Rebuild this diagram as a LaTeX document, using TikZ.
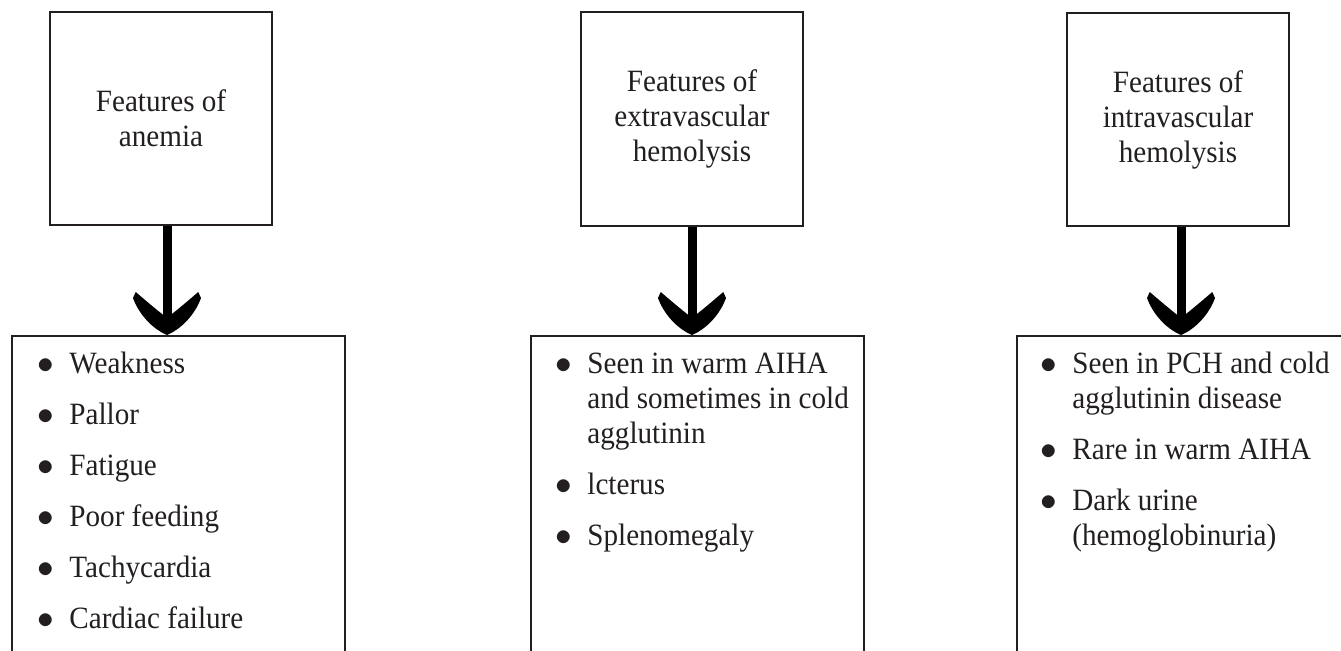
\documentclass[tikz,border=0pt]{standalone}
\usepackage{fontspec}
\setmainfont{Liberation Serif}[FakeStretch=0.94]
\usepackage{tikz}
\usetikzlibrary{arrows.meta,calc}

\definecolor{ink}{HTML}{231F20}

% curved wing head of the thick arrows
\pgfdeclarearrow{
  name = Wing,
  parameters = {\the\pgfarrowlength,\the\pgfarrowwidth},
  setup code = {
    \pgfarrowssettipend{0pt}
    \pgfarrowssetlineend{-.35\pgfarrowlength}
    \pgfarrowssetbackend{-\pgfarrowlength}
    \pgfarrowshullpoint{0pt}{0pt}
    \pgfarrowshullpoint{-\pgfarrowlength}{.5\pgfarrowwidth}
    \pgfarrowshullpoint{-\pgfarrowlength}{-.5\pgfarrowwidth}
    \pgfarrowssavethe\pgfarrowlength
    \pgfarrowssavethe\pgfarrowwidth
  },
  drawing code = {
    \pgfpathmoveto{\pgfqpoint{0pt}{0pt}}
    \pgfpathcurveto{\pgfqpoint{-.14\pgfarrowlength}{.21\pgfarrowwidth}}{\pgfqpoint{-.47\pgfarrowlength}{.41\pgfarrowwidth}}{\pgfqpoint{-.86\pgfarrowlength}{.5\pgfarrowwidth}}
    \pgfpathlineto{\pgfqpoint{-\pgfarrowlength}{.46\pgfarrowwidth}}
    \pgfpathcurveto{\pgfqpoint{-.81\pgfarrowlength}{.32\pgfarrowwidth}}{\pgfqpoint{-.58\pgfarrowlength}{.15\pgfarrowwidth}}{\pgfqpoint{-.4\pgfarrowlength}{0pt}}
    \pgfpathcurveto{\pgfqpoint{-.58\pgfarrowlength}{-.15\pgfarrowwidth}}{\pgfqpoint{-.81\pgfarrowlength}{-.32\pgfarrowwidth}}{\pgfqpoint{-\pgfarrowlength}{-.46\pgfarrowwidth}}
    \pgfpathlineto{\pgfqpoint{-.86\pgfarrowlength}{-.5\pgfarrowwidth}}
    \pgfpathcurveto{\pgfqpoint{-.47\pgfarrowlength}{-.41\pgfarrowwidth}}{\pgfqpoint{-.14\pgfarrowlength}{-.21\pgfarrowwidth}}{\pgfqpoint{0pt}{0pt}}
    \pgfpathclose
    \pgfusepathqfill
  },
  defaults = {length = 32.25pt, width = 51pt}
}

\newcommand{\blt}{\(\bullet\)}

\begin{document}
\begin{tikzpicture}[x=0.75pt,y=0.75pt,yscale=-1,xscale=1,
  every node/.style={font=\fontsize{23.25}{26.25}\selectfont, text=ink},
  headbox/.style={draw=ink, line width=1.5pt, minimum width=166.5pt, minimum height=160pt, align=center, inner sep=0pt},
  listbox/.style={draw=ink, line width=1.5pt, minimum width=249.75pt, minimum height=300pt, anchor=north, inner sep=0pt},
  itemlist/.style={anchor=north west, inner sep=0pt},
  bigarrow/.style={line width=6.75pt, -{Wing}}
]
\useasboundingbox (0,0) rectangle (1341,650);
\clip (0,0) rectangle (1341,650);

%Shape: Rectangle [anemia]
\node[headbox] (anemia) at (161,118.5) {Features of\\anemia};
%Shape: Rectangle [extravascular]
\node[headbox] (extra) at (692,119) {Features of\\extravascular\\hemolysis};
%Shape: Rectangle [intravascular]
\node[headbox] (intra) at (1178,119.5) {Features of\\intravascular\\hemolysis};

%Shape: Rectangle [lists]
\node[listbox] (anemiaList) at (178.5,335) {};
\node[listbox] (extraList) at (697,335) {};
\node[listbox] (intraList) at (1183.5,335) {};

%Straight Lines [arrows]
\draw[bigarrow] ($(anemia.south)+(6,0)$) -- ($(anemiaList.north)+(-11.5,0)$);
\draw[bigarrow] (extra.south) -- ($(extraList.north)+(-5,0)$);
\draw[bigarrow] ($(intra.south)+(3,0)$) -- ($(intraList.north)+(-2.5,0)$);

% Text Node
\node[itemlist] (anemiaItems) at (37.3,349) {\begin{tabular}{@{}l@{\hspace{11.45pt}}l@{}}
\blt & Weakness\\[12pt]
\blt & Pallor\\[12pt]
\blt & Fatigue\\[12pt]
\blt & Poor feeding\\[12pt]
\blt & Tachycardia\\[12pt]
\blt & Cardiac failure
\end{tabular}};
% Text Node
\node[itemlist] (extraItems) at (555.3,349) {\begin{tabular}{@{}l@{\hspace{11.45pt}}l@{}}
\blt & Seen in warm AIHA\\
 & and sometimes in cold\\
 & agglutinin\\[12pt]
\blt & lcterus\\[12pt]
\blt & Splenomegaly
\end{tabular}};
% Text Node
\node[itemlist] (intraItems) at (1040.3,349) {\begin{tabular}{@{}l@{\hspace{11.45pt}}l@{}}
\blt & Seen in PCH and cold\\
 & agglutinin disease\\[12pt]
\blt & Rare in warm AIHA\\[12pt]
\blt & Dark urine\\
 & (hemoglobinuria)
\end{tabular}};

\end{tikzpicture}
\end{document}
